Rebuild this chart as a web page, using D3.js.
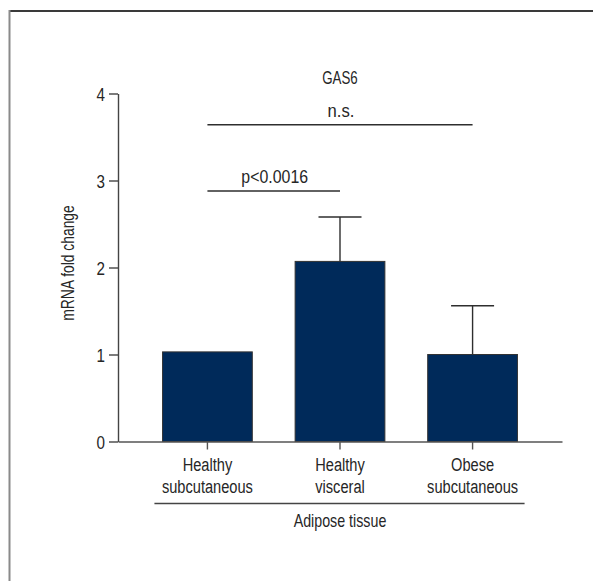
<!DOCTYPE html>
<html>
<head>
<meta charset="utf-8">
<script src="https://cdn.jsdelivr.net/npm/d3@7"></script>
<style>
  html, body { margin: 0; padding: 0; background: #fff; }
  svg text { font-family: "Liberation Sans", Arial, sans-serif; fill: #262626; }
</style>
</head>
<body>
<svg id="chart" width="593" height="581"></svg>
<script>
// ---- data ----
const categories = ["Healthy subcutaneous", "Healthy visceral", "Obese subcutaneous"];
const categoryLines = [["Healthy", "subcutaneous"], ["Healthy", "visceral"], ["Obese", "subcutaneous"]];
const means = [1.03, 2.07, 1.00];
const errors = [0.0, 0.51, 0.56];
const yTicks = [0, 1, 2, 3, 4];
const title = "GAS6";
const yLabel = "mRNA fold change";
const groupLabel = "Adipose tissue";
const comparisons = [
  { from: 0, to: 1, level: 2.88, label: "p<0.0016" },
  { from: 0, to: 2, level: 3.64, label: "n.s." }
];

// ---- layout ----
const SX = 0.77; // horizontal condensing to mimic a condensed face
const svg = d3.select("#chart");
const plot = { left: 118, right: 562, top: 93.5, bottom: 441.5 };

function ctext(parent, x, y, str, size, sx) {
  return parent.append("text")
    .attr("transform", `translate(${x},${y}) scale(${sx || SX},1)`)
    .attr("text-anchor", "middle")
    .style("font-size", size + "px")
    .text(str);
}

// frame
svg.append("line").attr("x1", 9.5).attr("x2", 593).attr("y1", 11).attr("y2", 11)
  .attr("stroke", "#3a3a3a").attr("stroke-width", 2);
svg.append("line").attr("x1", 9.5).attr("x2", 9.5).attr("y1", 10).attr("y2", 581)
  .attr("stroke", "#8a8a8a").attr("stroke-width", 2);

const x = d3.scaleBand().domain(categories).range([plot.left, plot.right])
  .paddingInner(0.323).paddingOuter(0.336);
const y = d3.scaleLinear().domain([0, 4]).range([plot.bottom, plot.top]);
const cx = c => x(c) + x.bandwidth() / 2;

// bars
svg.append("g").selectAll("rect").data(categories).join("rect")
  .attr("x", d => x(d))
  .attr("y", (d, i) => y(means[i]))
  .attr("width", x.bandwidth())
  .attr("height", (d, i) => y(0) - y(means[i]))
  .attr("fill", "#002a5a")
  .attr("stroke", "#333")
  .attr("stroke-width", 1);

// error bars
const eb = svg.append("g").attr("stroke", "#2e2e2e").attr("stroke-width", 1.4);
categories.forEach((c, i) => {
  if (errors[i] <= 0) return;
  const px = cx(c);
  eb.append("line").attr("x1", px).attr("x2", px).attr("y1", y(means[i])).attr("y2", y(means[i] + errors[i]));
  eb.append("line").attr("x1", px - 21.5).attr("x2", px + 21.5)
    .attr("y1", y(means[i] + errors[i])).attr("y2", y(means[i] + errors[i]));
});

// y axis
const YS = 0.8;
const yAxis = svg.append("g").attr("transform", `translate(${plot.left},0)`)
  .call(d3.axisLeft(y).tickValues(yTicks).tickFormat(d3.format("d")).tickSize(9).tickPadding(3).tickSizeOuter(0));
yAxis.selectAll("path, line").attr("stroke", "#444").attr("stroke-width", 1.4);
yAxis.selectAll("text")
  .style("font-size", "19px")
  .attr("x", -13 / YS)
  .attr("dy", "0.36em")
  .attr("transform", `scale(${YS},1)`);

// x axis
const xAxis = svg.append("g").attr("transform", `translate(0,${plot.bottom})`)
  .call(d3.axisBottom(x).tickSize(8).tickSizeOuter(0).tickFormat(""));
xAxis.selectAll("path, line").attr("stroke", "#555").attr("stroke-width", 1.4);

// category labels (two lines)
const cl = svg.append("g");
categories.forEach((c, i) => {
  categoryLines[i].forEach((line, j) => {
    ctext(cl, cx(c), 470.5 + j * 22, line, 19);
  });
});

// group line and label
const c0 = cx(categories[0]);
const c2 = cx(categories[2]);
svg.append("line").attr("x1", c0 - 53).attr("x2", c2 + 52).attr("y1", 503.5).attr("y2", 503.5)
  .attr("stroke", "#444").attr("stroke-width", 1.4);
ctext(svg, (c0 + c2) / 2, 527, groupLabel, 19, 0.75);

// y label
svg.append("text")
  .attr("transform", `translate(74,263) rotate(-90) scale(0.77,1)`)
  .attr("text-anchor", "middle").style("font-size", "18px").text(yLabel);

// title
ctext(svg, cx(categories[1]), 83.5, title, 18, 0.74);

// comparisons
comparisons.forEach(cmp => {
  const xa = cx(categories[cmp.from]);
  const xb = cx(categories[cmp.to]);
  svg.append("line").attr("x1", xa).attr("x2", xb).attr("y1", y(cmp.level)).attr("y2", y(cmp.level))
    .attr("stroke", "#2e2e2e").attr("stroke-width", 1.4);
  ctext(svg, (xa + xb) / 2 + 1, y(cmp.level) - 8, cmp.label, 18.5, cmp.label.length > 5 ? 0.86 : 0.9);
});
</script>
</body>
</html>
